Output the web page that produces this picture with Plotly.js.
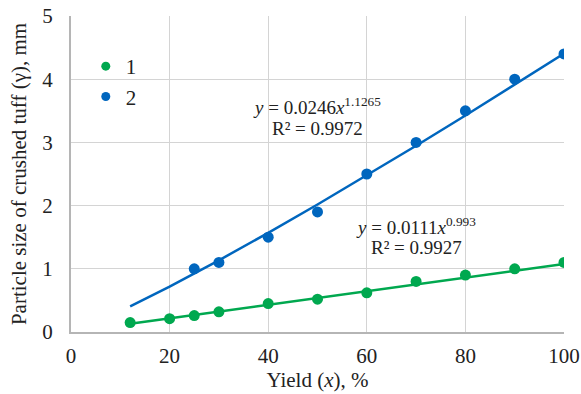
<!DOCTYPE html>
<html>
<head>
<meta charset="utf-8">
<script src="https://cdn.plot.ly/plotly-3.0.1.min.js"></script>
<style>html,body{margin:0;padding:0;background:#fff;}#chart{width:581px;height:394px;}</style>
</head>
<body>
<div id="chart"></div>
<script>
// Series 1 (green)
const x1 = [12, 20, 25, 30, 40, 50, 60, 70, 80, 90, 100];
const y1 = [0.15, 0.21, 0.26, 0.32, 0.45, 0.52, 0.62, 0.80, 0.90, 1.00, 1.10];
// Series 2 (blue)
const x2 = [25, 30, 40, 50, 60, 70, 80, 90, 100];
const y2 = [1.00, 1.10, 1.50, 1.90, 2.50, 3.00, 3.50, 4.00, 4.40];
// Power trend coefficients shown on the chart
const fit1 = {a: 0.0111, b: 0.993};
const fit2 = {a: 0.0246, b: 1.1265};
const trendX = [12, 20, 30, 40, 50, 60, 70, 80, 90, 100];
const xTicks = [0, 20, 40, 60, 80, 100];
const yTicks = [0, 1, 2, 3, 4, 5];

const green = '#00A84F';
const blue = '#0066BE';
const font = 'Liberation Serif, Times New Roman, serif';

const t1 = trendX.map(v => fit1.a * Math.pow(v, fit1.b));
const t2 = trendX.map(v => fit2.a * Math.pow(v, fit2.b));

const traces = [
  {x: trendX, y: t2, mode: 'lines', line: {color: blue, width: 2.5}, showlegend: false, hoverinfo: 'skip'},
  {x: trendX, y: t1, mode: 'lines', line: {color: green, width: 2.5}, showlegend: false, hoverinfo: 'skip'},
  {x: x1, y: y1, mode: 'markers', marker: {color: green, size: 11}, showlegend: false},
  {x: x2, y: y2, mode: 'markers', marker: {color: blue, size: 11}, showlegend: false},
  {x: [null], y: [null], name: '1', mode: 'markers', marker: {color: green, size: 9}},
  {x: [null], y: [null], name: '2', mode: 'markers', marker: {color: blue, size: 9}}
];

const layout = {
  width: 581, height: 394,
  margin: {l: 71, r: 17, t: 16, b: 62},
  paper_bgcolor: '#fff', plot_bgcolor: '#fff',
  font: {family: font, size: 21, color: '#222'},
  xaxis: {
    range: [0, 100], tickvals: xTicks, ticktext: xTicks.map(String),
    showgrid: true, gridcolor: '#d4d4d4', gridwidth: 1,
    showline: true, linecolor: '#b5b5b5', linewidth: 2,
    zeroline: false, ticks: '', ticklabelstandoff: 4,
    tickfont: {family: font, size: 21, color: '#222'},
    title: {text: 'Yield (<i>x</i>), %', font: {family: font, size: 21, color: '#222'}, standoff: 2}
  },
  yaxis: {
    range: [0, 5], tickvals: yTicks, ticktext: yTicks.map(String),
    showgrid: true, gridcolor: '#d4d4d4', gridwidth: 1,
    showline: true, linecolor: '#b5b5b5', linewidth: 2,
    zeroline: false, ticks: '', ticklabelstandoff: 12,
    tickfont: {family: font, size: 21, color: '#222'},
    title: {text: 'Particle size of crushed tuff (γ), mm', font: {family: font, size: 21, color: '#222'}, standoff: 10}
  },
  showlegend: true,
  legend: {
    x: 0.03, y: 0.905, xanchor: 'left', yanchor: 'top',
    bgcolor: 'rgba(0,0,0,0)', font: {family: font, size: 21, color: '#222'},
    tracegroupgap: 0, itemwidth: 30
  },
  annotations: [
    {xref: 'paper', yref: 'paper', x: (317-71)/493, y: (332-106)/316, text: '<i>y</i> = 0.0246<i>x</i><sup>1.1265</sup>', showarrow: false, font: {family: font, size: 19, color: '#222'}, xanchor: 'center', yanchor: 'middle'},
    {xref: 'paper', yref: 'paper', x: (317-71)/493, y: (332-128)/316, text: 'R² = 0.9972', showarrow: false, font: {family: font, size: 19, color: '#222'}, xanchor: 'center', yanchor: 'middle'},
    {xref: 'paper', yref: 'paper', x: (416-71)/493, y: (332-226)/316, text: '<i>y</i> = 0.0111<i>x</i><sup>0.993</sup>', showarrow: false, font: {family: font, size: 19, color: '#222'}, xanchor: 'center', yanchor: 'middle'},
    {xref: 'paper', yref: 'paper', x: (416-71)/493, y: (332-247)/316, text: 'R² = 0.9927', showarrow: false, font: {family: font, size: 19, color: '#222'}, xanchor: 'center', yanchor: 'middle'}
  ]
};

Plotly.newPlot('chart', traces, layout, {displayModeBar: false, staticPlot: true});
</script>
</body>
</html>
